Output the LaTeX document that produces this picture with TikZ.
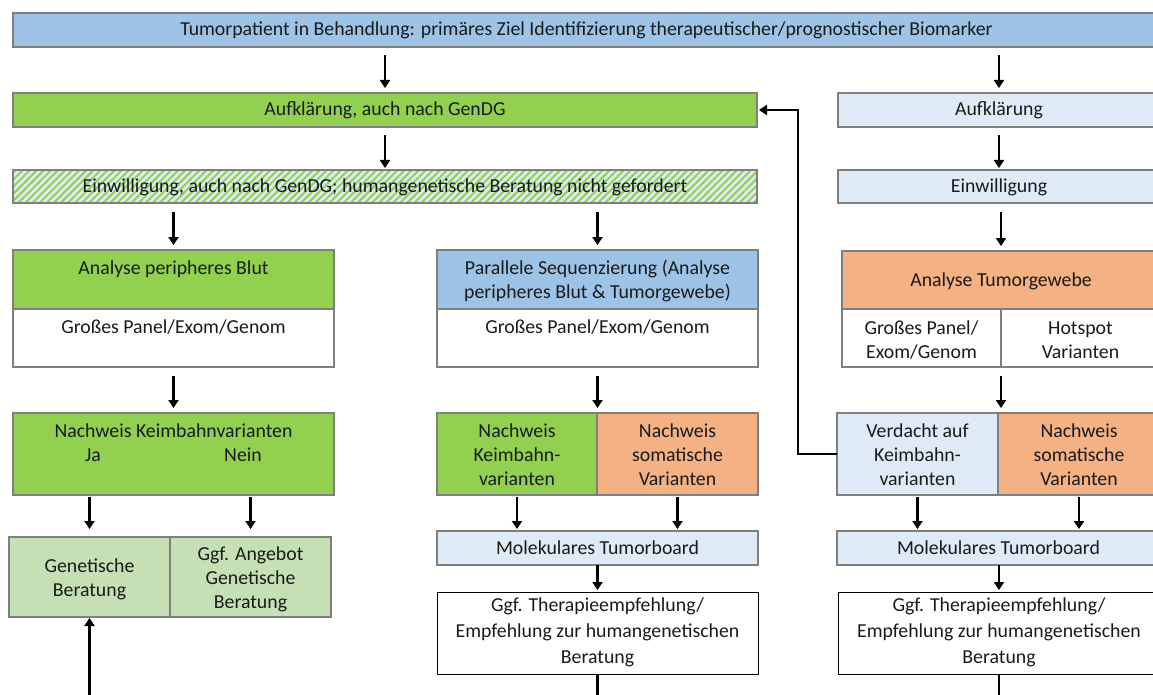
\documentclass[tikz,border=0pt]{standalone}
\usepackage{fontspec}
\setmainfont{Carlito}
\usetikzlibrary{fit,arrows.meta,patterns.meta}
\definecolor{cblue}{HTML}{9DC3E6}
\definecolor{cgreen}{HTML}{92D050}
\definecolor{clblue}{HTML}{DEEBF7}
\definecolor{corange}{HTML}{F4B183}
\definecolor{clgreen}{HTML}{C5E0B4}
\definecolor{cborder}{HTML}{7F7F7F}
\definecolor{ctext}{HTML}{1A1A1A}
\newcommand{\myfs}{\fontsize{19.8}{24}\selectfont}
\begin{document}
\begin{tikzpicture}[x=1pt,y=-1pt,
  box/.style={draw=cborder, line width=2pt, inner sep=0pt, outer sep=0pt},
  wbox/.style={draw=black, line width=1pt, fill=white, inner sep=0pt, outer sep=0pt},
  txt/.style={font=\myfs, align=center, inner sep=0pt, text=ctext, anchor=base},
  arr/.style={line width=2.5pt, -{Triangle[length=8pt,width=10pt]}},
  ln/.style={line width=2.5pt}
]
\useasboundingbox (0,0) rectangle (1153,695);
\clip (0,0) rectangle (1153,695);

% ---------- boxes ----------
\node[box, fill=cblue, fit={(13,13)(1160,47)}] (top) {};
\node[box, fill=cgreen, fit={(13,93)(757,127)}] (aufk) {};
\node[box, fill=clblue, fit={(838,93)(1160,127)}] (aufkR) {};
\node[box, preaction={fill=clblue}, pattern={Lines[angle=45,distance=5pt,line width=2pt]}, pattern color=cgreen, fit={(13,170)(757,203)}] (einw) {};
\node[box, fill=clblue, fit={(838,170)(1160,203)}] (einwR) {};

\node[box, fill=cgreen, fit={(13,250)(334,309)}] (blutH) {};
\node[box, fill=white, fit={(13,309)(334,367)}] (blutB) {};
\node[box, fill=cblue, fit={(437,250)(758,309)}] (parH) {};
\node[box, fill=white, fit={(437,309)(758,367)}] (parB) {};
\node[box, fill=corange, fit={(842,251)(1160,309)}] (tumH) {};
\node[box, fill=white, fit={(842,309)(1001,367)}] (tumB1) {};
\node[box, fill=white, fit={(1001,309)(1160,367)}] (tumB2) {};

\node[box, fill=cgreen, fit={(13,413)(334,495)}] (nkb) {};
\node[box, fill=cgreen, fit={(437,413)(597,495)}] (mkL) {};
\node[box, fill=corange, fit={(597,413)(758,495)}] (mkR) {};
\node[box, fill=clblue, fit={(837,413)(998,495)}] (verd) {};
\node[box, fill=corange, fit={(998,413)(1160,495)}] (somR) {};

\node[box, fill=clgreen, fit={(9,537)(170,617)}] (genL) {};
\node[box, fill=clgreen, fit={(170,537)(331,617)}] (genR) {};
\node[box, fill=clblue, fit={(437,531)(758,565)}] (mtb) {};
\node[box, fill=clblue, fit={(837,531)(1160,565)}] (mtbR) {};

\node[wbox, fit={(437,592)(758,674)}] (ther) {};
\node[wbox, fit={(838,592)(1160,674)}] (therR) {};

% ---------- texts (multi-line nodes: base = last line) ----------
\node[txt] (topT) at (top.center |- 0,36) {Tumorpatient in Behandlung: primäres Ziel Identifizierung therapeutischer/prognostischer Biomarker};
\node[txt] (aufkT) at (aufk.center |- 0,116) {Aufklärung, auch nach GenDG};
\node[txt] (aufkRT) at (aufkR.center |- 0,116) {Aufklärung};
\node[txt] (einwT) at (einw.center |- 0,192.5) {Einwilligung, auch nach GenDG; humangenetische Beratung nicht gefordert};
\node[txt] (einwRT) at (einwR.center |- 0,192.5) {Einwilligung};

\node[txt] (blutHT) at (blutH.center |- 0,274) {Analyse peripheres Blut};
\node[txt] (blutBT) at (blutB.center |- 0,333) {Großes Panel/Exom/Genom};
\node[txt] (parHT) at (parH.center |- 0,298) {Parallele Sequenzierung (Analyse\\peripheres Blut \& Tumorgewebe)};
\node[txt] (parBT) at (parB.center |- 0,333) {Großes Panel/Exom/Genom};
\node[txt] (tumHT) at (tumH.center |- 0,286.5) {Analyse Tumorgewebe};
\node[txt] (tumB1T) at (tumB1.center |- 0,358) {Großes Panel/\\Exom/Genom};
\node[txt] (tumB2T) at (tumB2.center |- 0,358) {Hotspot\\Varianten};

\node[txt] (nkbT) at (nkb.center |- 0,437) {Nachweis Keimbahnvarianten};
\node[txt] (ja) at (93,461) {Ja};
\node[txt] (nein) at (243,461) {Nein};
\node[txt] (mkLT) at (mkL.center |- 0,485) {Nachweis\\Keimbahn-\\varianten};
\node[txt] (mkRT) at (mkR.center |- 0,485) {Nachweis\\somatische\\Varianten};
\node[txt] (verdT) at (verd.center |- 0,485) {Verdacht auf\\Keimbahn-\\varianten};
\node[txt] (somRT) at (somR.center |- 0,485) {Nachweis\\somatische\\Varianten};

\node[txt] (genLT) at (genL.center |- 0,596) {Genetische\\Beratung};
\node[txt] (genRT) at (genR.center |- 0,608) {Ggf. Angebot\\Genetische\\Beratung};
\node[txt] (mtbT) at (mtb.center |- 0,554) {Molekulares Tumorboard};
\node[txt] (mtbRT) at (mtbR.center |- 0,554) {Molekulares Tumorboard};
\node[txt] (therT) at (ther.center |- 0,663) {Ggf. Therapieempfehlung/\\[2pt]Empfehlung zur humangenetischen\\[2pt]Beratung};
\node[txt] (therRT) at (therR.center |- 0,663) {Ggf. Therapieempfehlung/\\[2pt]Empfehlung zur humangenetischen\\[2pt]Beratung};

% off-picture ends
\coordinate (outM) at (597.5,705);
\coordinate (outR) at (999,705);
\coordinate (inL) at (89.5,705);

% ---------- arrows ----------
\draw[arr, shorten <=8pt, shorten >=5pt] (top.south -| aufk.north) -- (aufk.north);
\draw[arr, shorten <=8pt, shorten >=5pt] (top.south -| aufkR.north) -- (aufkR.north);
\draw[arr, shorten <=8pt, shorten >=2pt] (aufk.south) -- (einw.north);
\draw[arr, shorten <=8pt, shorten >=2pt] (aufkR.south) -- (einwR.north);
\draw[arr, shorten <=9pt, shorten >=5pt] (einw.south -| blutH.north) -- (blutH.north);
\draw[arr, shorten <=9pt, shorten >=5pt] (einw.south -| parH.north) -- (parH.north);
\draw[arr, shorten <=9pt, shorten >=5pt] (einwR.south -| tumH.north) -- (tumH.north);
\draw[arr, shorten <=9pt, shorten >=5pt] (blutB.south) -- (nkb.north);
\draw[arr, shorten <=9pt, shorten >=5pt] (parB.south) -- (parB.south |- mkL.north);
\draw[arr, shorten <=9pt, shorten >=5pt] (tumH.south |- tumB1.south) -- (tumH.south |- verd.north);
\draw[arr, shorten <=2pt, shorten >=8pt] (nkb.south -| genL.north) -- (genL.north);
\draw[arr, shorten <=2pt, shorten >=8pt] (nkb.south -| genR.north) -- (genR.north);
\draw[arr, shorten <=2pt, shorten >=2pt] (mkL.south) -- (mkL.south |- mtb.north);
\draw[arr, shorten <=2pt, shorten >=2pt] (mkR.south) -- (mkR.south |- mtb.north);
\draw[arr, shorten <=2pt, shorten >=2pt] (verd.south) -- (verd.south |- mtbR.north);
\draw[arr, shorten <=2pt, shorten >=2pt] (somR.south) -- (somR.south |- mtbR.north);
\draw[arr, shorten >=2pt] (mtb.south -| ther.north) -- (ther.north);
\draw[arr, shorten >=2pt] (mtbR.south -| therR.north) -- (therR.north);
\draw[ln] (ther.south) -- (outM);
\draw[ln] (therR.south) -- (outR);
\draw[arr, shorten >=1pt] (inL) -- (genL.south);
\draw[arr, shorten >=2pt] (verd.west) -- ++(-39,0) |- (aufk.east);
\end{tikzpicture}
\end{document}
